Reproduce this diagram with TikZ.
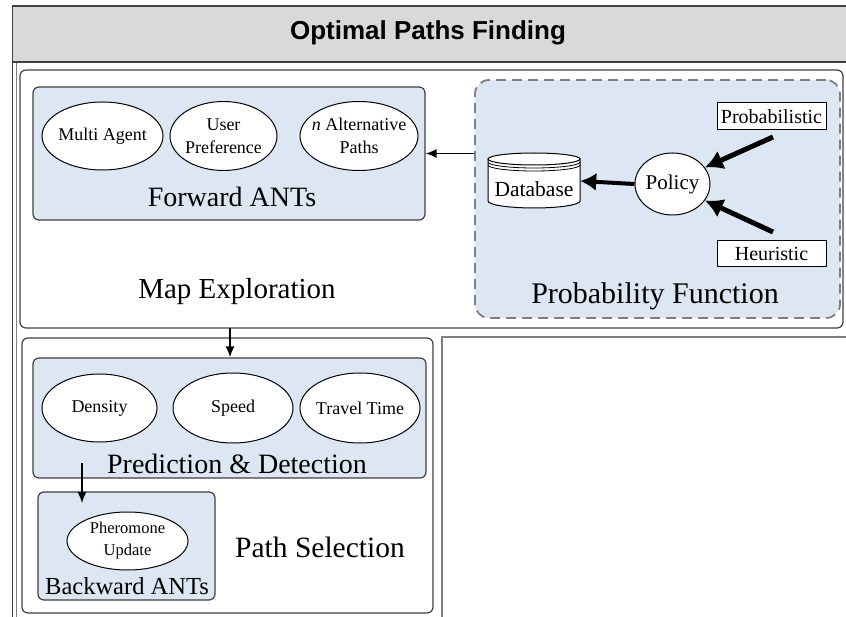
\documentclass[tikz,border=0pt]{standalone}
\usepackage{fontspec}
\setmainfont{Liberation Serif}
\newfontfamily\titlefont{Liberation Sans}
\usetikzlibrary{arrows.meta,shapes.geometric}
\definecolor{frame}{HTML}{404040}
\definecolor{barfill}{HTML}{D9D9D9}
\definecolor{bluefill}{HTML}{DDE7F3}
\definecolor{dashgray}{HTML}{808080}
\tikzset{
  box/.style={draw=frame,line width=1.2pt,rounded corners=6pt,inner sep=0pt},
  bluebox/.style={box,fill=bluefill},
  oval/.style={draw=black,line width=1pt,fill=white,ellipse,inner sep=0pt},
  ovaltext/.style={inner sep=0pt,align=center,font=\fontsize{18}{23}\selectfont},
  lbl/.style={inner sep=0pt,font=\fontsize{28}{32}\selectfont},
  smallbox/.style={draw=black,line width=1pt,fill=white,inner sep=0pt,font=\fontsize{20}{24}\selectfont},
  thinarr/.style={line width=1.5pt,-{Latex[length=11pt,width=9pt]}},
  thickarr/.style={line width=4pt,-{Latex[length=16pt,width=18pt]}},
}
\begin{document}
\begin{tikzpicture}[x=1pt,y=-1pt]
\useasboundingbox (0,0) rectangle (846,617);
% outer frame lines
\draw[frame,line width=1.6pt] (12.5,6) -- (12.5,617);
\draw[gray,line width=1pt] (16.5,62) -- (16.5,617);
% title bar
\node[draw=frame,line width=1.6pt,fill=barfill,minimum width=836pt,minimum height=56pt,inner sep=0pt] (title) at (430.5,34) {};
\node[inner sep=0pt,font=\titlefont\bfseries\fontsize{26}{30}\selectfont] (titletext) at (428,33) {Optimal Paths Finding};
% map exploration
\node[box,minimum width=823pt,minimum height=258pt] (map) at (431.5,199) {};
\node[bluebox,minimum width=392pt,minimum height=133pt] (fa) at (229,153.5) {};
\node[oval,minimum width=121pt,minimum height=68pt] (multi) at (102.5,136) {};
\node[ovaltext] at (multi) {Multi Agent};
\node[oval,minimum width=107pt,minimum height=69pt] (user) at (223.5,136) {};
\node[ovaltext] at (user) {User\\Preference};
\node[oval,minimum width=118pt,minimum height=69pt] (alt) at (359,136) {};
\node[ovaltext] at (alt) {\textit{n} Alternative\\Paths};
\node[lbl] (falbl) at (232,197) {Forward ANTs};
\node[lbl,font=\fontsize{29}{32}\selectfont] (maplbl) at (237,292) {Map Exploration};
% probability function
\node[draw=dashgray,line width=1.8pt,dash pattern=on 10pt off 6pt,fill=bluefill,rounded corners=14pt,minimum width=365pt,minimum height=238pt,inner sep=0pt] (pf) at (657.5,199) {};
\node[smallbox,minimum width=109pt,minimum height=27pt] (prob) at (771.5,116.5) {Probabilistic};
\node[smallbox,minimum width=109pt,minimum height=26pt] (heur) at (771.5,254) {Heuristic};
\node[oval,minimum width=75pt,minimum height=62pt] (policy) at (672.5,184) {};
\node[ovaltext,font=\fontsize{21}{24}\selectfont] at (policy) {Policy};
\node[inner sep=0pt,minimum width=92pt,minimum height=56pt] (db) at (534,181) {};
\fill[white] (488,159) -- (488,201) arc[start angle=180,end angle=0,x radius=46,y radius=7] -- (580,159) arc[start angle=0,end angle=-180,x radius=46,y radius=6] -- cycle;
\draw[line width=1pt] (534,159) ellipse[x radius=46,y radius=6];
\draw[line width=0.8pt] (488,162) arc[start angle=180,end angle=0,x radius=46,y radius=6];
\draw[line width=0.8pt] (488,165) arc[start angle=180,end angle=0,x radius=46,y radius=6];
\draw[line width=1pt] (488,159) -- (488,201) arc[start angle=180,end angle=0,x radius=46,y radius=7] -- (580,159);
\node[inner sep=0pt,font=\fontsize{21.5}{24}\selectfont] (dbtext) at (534,189) {Database};
\node[lbl,font=\fontsize{30}{34}\selectfont] (pflbl) at (655,296) {Probability Function};
\coordinate (pa) at (773,137);
\coordinate (ha) at (773,232);
\draw[thickarr] (policy.west) -- (db.east);
\draw[thickarr,line width=5pt,-{Latex[length=18pt,width=20pt]}] (pa) -- (policy.27);
\draw[thickarr,line width=5pt,-{Latex[length=18pt,width=20pt]}] (ha) -- (policy.-27);
\draw[thinarr] (pf.west |- fa.east) -- (fa.east);
% path selection
\node[box,minimum width=411pt,minimum height=275pt] (ps) at (227.5,475.5) {};
\node[bluebox,minimum width=393pt,minimum height=120pt] (pd) at (229.5,418) {};
\node[oval,minimum width=115pt,minimum height=68pt] (dens) at (99.5,408) {};
\node[ovaltext] at (dens) {Density};
\node[oval,minimum width=120pt,minimum height=70pt] (speed) at (233,408) {};
\node[ovaltext] at (speed) {Speed};
\node[oval,minimum width=120pt,minimum height=70pt] (tt) at (360,408) {};
\node[ovaltext] at (tt) {Travel Time};
\node[lbl] (pdlbl) at (237,464) {Prediction \& Detection};
\node[bluebox,minimum width=177pt,minimum height=108pt] (ba) at (126.5,546) {};
\node[oval,minimum width=121pt,minimum height=58pt] (pher) at (127.5,541) {};
\node[ovaltext,font=\fontsize{16.5}{22}\selectfont] at (pher) {Pheromone\\Update};
\node[lbl,font=\fontsize{24.5}{28}\selectfont] (balbl) at (127,586) {Backward ANTs};
\node[lbl,font=\fontsize{29.5}{32}\selectfont] (pslbl) at (320,547) {Path Selection};
\coordinate (m1) at (230,328);
\draw[thinarr] (m1) -- (m1 |- pd.north);
\coordinate (p1) at (82,463);
\coordinate (p2) at (82,503);
\draw[thinarr] (p1) -- (p2);
% right lower frame
\draw[gray,line width=1.5pt] (442,617) -- (442,337) -- (846,337);
\end{tikzpicture}
\end{document}
